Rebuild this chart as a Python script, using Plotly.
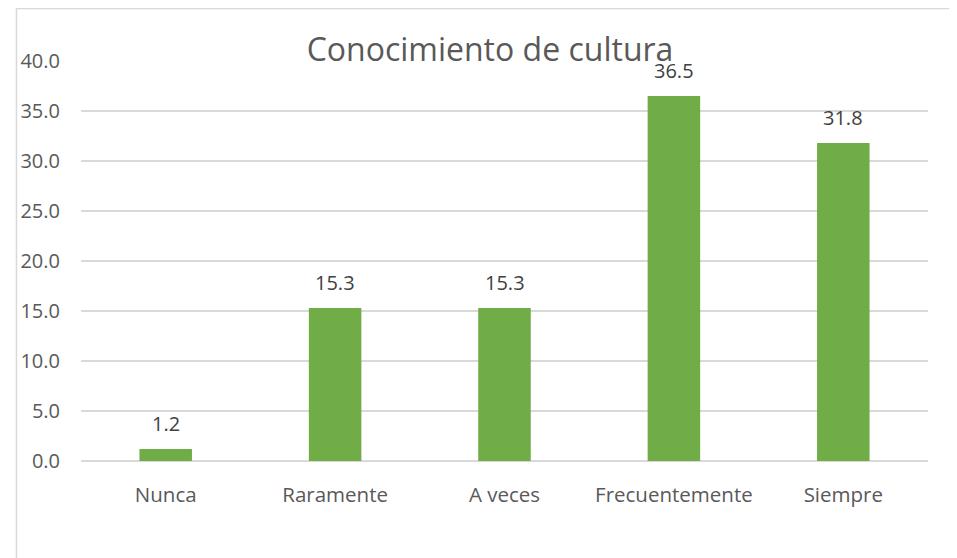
import plotly.graph_objects as go

categorias = ['Nunca', 'Raramente', 'A veces', 'Frecuentemente', 'Siempre']
porcentajes = [1.2, 15.3, 15.3, 36.5, 31.8]
tick_vals = [0, 5, 10, 15, 20, 25, 30, 35, 40]

# page body has an 8px margin, so the figure is drawn 8px smaller
W, H = 949, 550
L, R, T, B = 67, 29, 53, 97
pw, ph = W - L - R, H - T - B

fig = go.Figure()
fig.add_trace(go.Bar(
    x=categorias,
    y=porcentajes,
    marker=dict(color='#70AD47', line=dict(width=0)),
    width=0.31,
))

# value labels a bit above the bars, like the spreadsheet chart
for c, v in zip(categorias, porcentajes):
    fig.add_annotation(x=c, y=v, text=f'{v:.1f}', showarrow=False,
                       yanchor='middle', yshift=26,
                       font=dict(family='Open Sans', size=20, color='#404040'))

# chart border (left and top visible)
fig.add_shape(type='rect', xref='paper', yref='paper',
              x0=(2 - L) / pw, x1=(W + 5 - L) / pw,
              y0=-(B + 5) / ph, y1=1 + (T - 0.5) / ph,
              line=dict(color='#d9d9d9', width=1.5), layer='below')

fig.update_layout(
    width=W, height=H,
    margin=dict(l=L, r=R, t=T, b=B),
    paper_bgcolor='white',
    plot_bgcolor='white',
    title=dict(text='Conocimiento de cultura', x=482 / W, xanchor='center',
               y=1 - 42 / H, yanchor='middle',
               font=dict(family='Open Sans', size=32, color='#595959')),
    showlegend=False,
    xaxis=dict(showgrid=False, showline=False, ticks='', ticklabelstandoff=19,
               tickfont=dict(family='Open Sans', size=20.5, color='#595959')),
    yaxis=dict(range=[0, 40], tickvals=tick_vals, tickformat='.1f',
               showgrid=True, gridcolor='#d9d9d9', gridwidth=1.5,
               zeroline=True, zerolinecolor='#d9d9d9', zerolinewidth=1.5,
               ticks='', ticklabelstandoff=20,
               tickfont=dict(family='Open Sans', size=20, color='#595959')),
)

fig.write_html('out.html')
